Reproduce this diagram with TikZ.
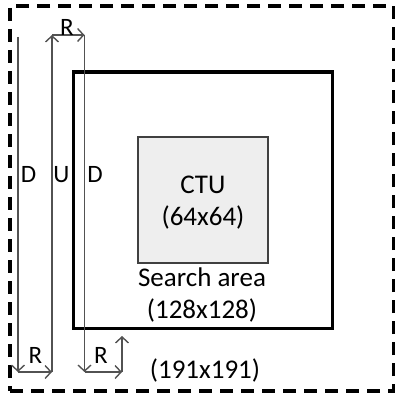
\documentclass[tikz,border=0pt]{standalone}
\usepackage{fontspec}
\setmainfont{Carlito}
\usetikzlibrary{arrows.meta}
\begin{document}
\begin{tikzpicture}[x=1pt,y=-1pt,
  box/.style={inner sep=0pt, outer sep=0pt},
  lbl/.style={font=\fontsize{27}{32}\selectfont, inner sep=0pt, anchor=base},
  dimlbl/.style={font=\fontsize{25}{28}\selectfont, inner sep=0pt},
  arr/.style={draw=black!68, line width=1.4pt, -{Straight Barb[length=6pt,width=13pt,line width=1.4pt]}},
]
\useasboundingbox (0,0) rectangle (395,396);
% boxes
\node[box, draw, line width=3.2pt, dash pattern=on 13pt off 8pt,
      minimum width=384pt, minimum height=385pt] (outer) at (202,198.5) {};
\node[box, draw, line width=3pt, minimum width=259pt, minimum height=256pt] (search) at (202.5,200) {};
\node[box, draw=black!75, line width=1.6pt, fill={rgb,255:red,238;green,238;blue,238},
      minimum width=130pt, minimum height=126pt] (ctu) at (203,200) {};
% texts
\node[lbl] (t1) at (203,193) {CTU};
\node[lbl] (t2) at (203,225) {(64x64)};
\node[lbl] (t3) at (202,286) {Search area};
\node[lbl] (t4) at (202,318) {(128x128)};
\node[lbl] (t5) at (205,378) {(191x191)};
% coordinates
\coordinate (d1top) at (18,37);
\coordinate (d1bot) at (18,372);
\coordinate (ubot) at (52,372);
\coordinate (utop) at (52,35);
\coordinate (d2top) at (84.5,35);
\coordinate (d2bot) at (84.5,372);
\coordinate (r2end) at (122,372);
\coordinate (upend) at (122,336);
% arrows
\draw[arr] (d1top) -- (d1bot);
\draw[arr] (d1bot) -- (ubot);
\draw[arr] (ubot) -- (utop);
\draw[arr] (utop) -- (d2top);
\draw[arr] (d2top) -- (d2bot);
\draw[arr] (d2bot) -- (r2end);
\draw[arr] (r2end) -- (upend);
% labels
\node[dimlbl] (lD1) at (28.5,174.5) {D};
\node[dimlbl] (lU) at (61.5,174.5) {U};
\node[dimlbl] (lD2) at (95,174.5) {D};
\node[dimlbl] (lR0) at (67,27) {R};
\node[dimlbl] (lR1) at (35.5,355) {R};
\node[dimlbl] (lR2) at (101,355) {R};
\end{tikzpicture}
\end{document}
